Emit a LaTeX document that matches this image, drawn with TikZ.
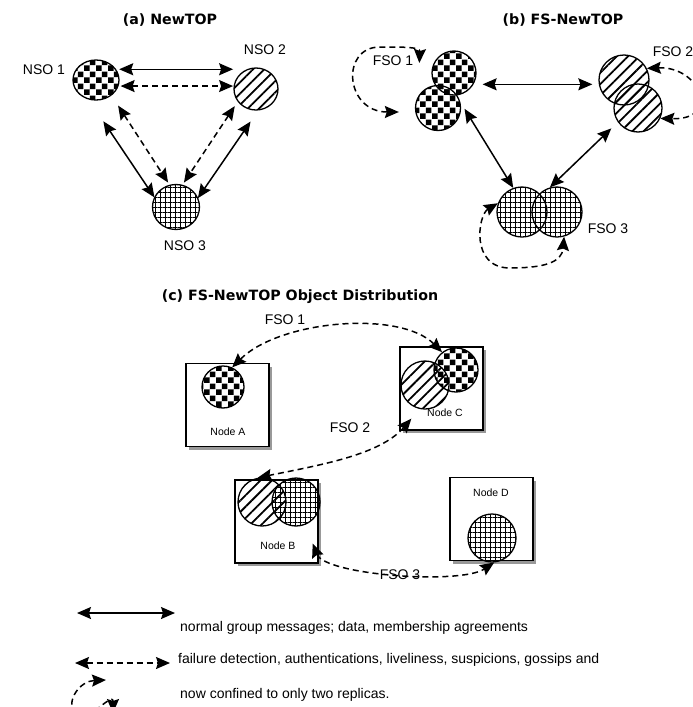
\documentclass[tikz,border=0pt]{standalone}
\usepackage{fontspec}
\setmainfont{Liberation Sans}
\newfontfamily\headfont{DejaVu Sans}
\usepackage{tikz}
\usetikzlibrary{shapes.geometric, arrows.meta, positioning, calc, patterns, patterns.meta, shadows}

\pgfdeclarepatternformonly{checkers}{\pgfpointorigin}{\pgfqpoint{12pt}{12pt}}{\pgfqpoint{12pt}{12pt}}{%
  \pgfpathrectangle{\pgfqpoint{0.2pt}{0.2pt}}{\pgfqpoint{5.8pt}{5.8pt}}%
  \pgfpathrectangle{\pgfqpoint{6.2pt}{6.2pt}}{\pgfqpoint{5.8pt}{5.8pt}}%
  \pgfusepath{fill}}

\begin{document}
\begin{tikzpicture}[
        x=1pt, y=-1pt,
        replica/.style={draw, ellipse, line width=1.3pt, inner sep=0pt},
        checked/.style={pattern=checkers},
        striped/.style={pattern={Lines[angle=45, distance=8pt, line width=1.8pt]}},
        gridded/.style={pattern={Hatch[distance=5pt, line width=0.5pt]}},
        msg/.style={{Stealth[length=14pt, width=12pt, inset=2pt]}-{Stealth[length=14pt, width=12pt, inset=2pt]}, line width=1.5pt},
        probe/.style={msg, dash pattern=on 6pt off 4pt},
        hostbox/.style={draw, line width=1.4pt, fill=white, minimum size=83pt, inner sep=0pt,
            drop shadow={shadow xshift=3pt, shadow yshift=-3pt, fill=black!40, opacity=1}},
        heading/.style={font=\headfont\bfseries\fontsize{14.2}{16}\selectfont, inner sep=0pt},
        tag/.style={font=\fontsize{14}{16}\selectfont, inner sep=0pt},
        hostname/.style={font=\fontsize{10.5}{12}\selectfont, inner sep=0pt},
        note/.style={font=\fontsize{14}{16}\selectfont, inner sep=0pt, anchor=west}
    ]
        \fill[white] (0,0) rectangle (693,707);
        \useasboundingbox (0,0) rectangle (693,707);

        % (a) NewTOP
        \node[heading] (titleA) at (170,20) {(a) NewTOP};
        \node[replica, checked, minimum width=46pt, minimum height=40pt] (nso1) at (96,80) {};
        \node[replica, striped, minimum width=44pt, minimum height=42pt] (nso2) at (256,89) {};
        \node[replica, gridded, minimum width=47pt, minimum height=45pt] (nso3) at (176,207) {};
        \node[tag] (nso1_label) at (44,70) {NSO 1};
        \node[tag] (nso2_label) at (265,50) {NSO 2};
        \node[tag] (nso3_label) at (185,246) {NSO 3};

        \draw[msg, shorten <=3pt] (nso1.28) -- (nso1.28 -| nso2.west);
        \draw[probe, shorten <=2pt] (nso1.-15) -- (nso1.-15 -| nso2.west);
        \draw[msg, shorten <=26pt] (nso1.250) -- (nso3.156);
        \draw[probe, shorten <=12pt, shorten >=3pt] (nso1.-45) -- (nso3.106);
        \draw[probe, shorten <=5pt, shorten >=3pt] (nso2.215) -- (nso3.74);
        \draw[msg, shorten <=13pt] (nso2.275) -- (nso3.22);

        % (b) FS-NewTOP
        \node[heading] (titleB) at (563,20) {(b) FS-NewTOP};
        \node[replica, checked, minimum size=45pt] (fso1b) at (438,108) {};
        \node[replica, checked, minimum size=44pt] (fso1a) at (454,73) {};
        \node[replica, striped, minimum size=50pt] (fso2a) at (624,80) {};
        \node[replica, striped, minimum size=48pt] (fso2b) at (638,108) {};
        \node[replica, gridded, minimum size=50pt] (fso3a) at (522,212) {};
        \node[replica, gridded, minimum size=50pt] (fso3b) at (557,212) {};
        \node[tag] (fso1_label) at (393,61) {FSO 1};
        \node[tag] (fso2_label) at (673,52) {FSO 2};
        \node[tag] (fso3_label) at (608,229) {FSO 3};

        \draw[msg, shorten <=9pt, shorten >=6pt] (fso1a.-30) -- (fso1a.-30 -| fso2a.west);
        \draw[msg, shorten <=8pt] (fso1b.15) -- (fso3a.110);
        \draw[msg, shorten <=9pt] (fso2b.215) -- (fso3b.106);

        % self loops
        \draw[probe] ([xshift=-16pt, yshift=-4pt]fso1b.west) .. controls (345,112) and (340,47) .. (380,47)
            .. controls (405,47) and (420,47) .. ([xshift=-12pt, yshift=10pt]fso1a.west);
        \draw[probe] (fso2a.27) .. controls (700,66) and (722,120) .. (fso2b.-25);
        \draw[probe] (fso3a.160) .. controls (478,215) and (470,268) .. (510,268)
            .. controls (545,268) and (562,262) .. (fso3b.-74);

        % (c) FS-NewTOP Object Distribution
        \node[heading] (titleC) at (300,297) {(c) FS-NewTOP Object Distribution};
        \node[hostbox] (boxA) at (227.5,405) {};
        \node[hostbox] (boxC) at (441.5,388.5) {};
        \node[hostbox] (boxB) at (276.5,521.5) {};
        \node[hostbox] (boxD) at (491.5,519) {};

        \node[replica, checked, minimum size=42pt] (circA) at (223,387) {};
        \node[replica, striped, minimum size=48pt] (circC1) at (425,385) {};
        \node[replica, checked, minimum size=44pt] (circC2) at (456,370) {};
        \node[replica, striped, minimum size=48pt] (circB1) at (262,502) {};
        \node[replica, gridded, minimum size=48pt] (circB2) at (296,502) {};
        \node[replica, gridded, minimum size=48pt] (circD) at (492,538) {};

        \node[hostname] (nameA) at (228,432) {Node A};
        \node[hostname] (nameC) at (445,413) {Node C};
        \node[hostname] (nameB) at (278,546) {Node B};
        \node[hostname] (nameD) at (491,493) {Node D};

        % Placements
        \draw[probe] (circA.65) .. controls (280,320) and (400,310) .. (circC2.128);
        \node[tag] (place1) at (285,320) {FSO 1};
        \draw[probe] ([shift={(12pt,12pt)}]boxC.south west) .. controls (380,455) and (320,465) .. (circB1.100);
        \node[tag] (place2) at (350,428) {FSO 2};
        \draw[probe] ([shift={(-6pt,-22pt)}]boxB.east) .. controls (325,575) and (460,585) .. (circD.-85);
        \node[tag] (place3) at (400,575) {FSO 3};

        % Key
        \coordinate (key1a) at (77,613);
        \coordinate (key1b) at (175,613);
        \draw[msg] (key1a) -- (key1b);
        \node[note] (key1) at (180,628) {normal group messages; data, membership agreements};
        \coordinate (key2a) at (75,663);
        \coordinate (key2b) at (170,663);
        \draw[probe] (key2a) -- (key2b);
        \node[note] (key2) at (178,660) {failure detection, authentications, liveliness, suspicions, gossips and};
        \coordinate (key3a) at (106,680);
        \coordinate (key3b) at (113,713);
        \draw[probe] (key3a) .. controls (80,681) and (66,700) .. (74,714)
            .. controls (82,730) and (113,690) .. (key3b);
        \node[note] (key3) at (180,695) {now confined to only two replicas.};
    \end{tikzpicture}
\end{document}
